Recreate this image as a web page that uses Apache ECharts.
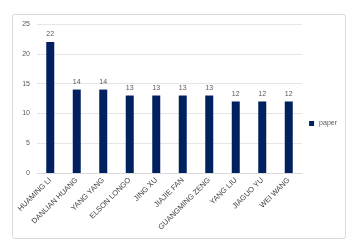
<!DOCTYPE html>
<html><head><meta charset="utf-8">
<script src="https://cdn.jsdelivr.net/npm/echarts@6/dist/echarts.min.js"></script>
<style>html,body{margin:0;padding:0;background:#fff}#c{width:352px;height:247px}</style>
</head><body><div id="c"></div>
<script>
const categories = ["HUAMING LI","DANLIAN HUANG","YANG YANG","ELSON LONGO","JING XU","JIAJIE FAN","GUANGMING ZENG","YANG LIU","JIAGUO YU","WEI WANG"];
const paper = [22,14,14,13,13,13,13,12,12,12];
const yTicks = [0,5,10,15,20,25];
const F = 'Liberation Sans, Arial, sans-serif';
const chart = echarts.init(document.getElementById('c'), null, {renderer:'canvas'});
chart.setOption({
  animation:false,
  graphic:[{type:'rect',shape:{x:12.5,y:14.5,width:333,height:224,r:2},style:{fill:'none',stroke:'#d9d9d9',lineWidth:1}}],
  grid:{left:37,right:50,top:24,bottom:74},
  legend:{data:['paper'],right:10,top:'middle',orient:'vertical',itemWidth:5,itemHeight:5,icon:'rect',itemGap:4,
    textStyle:{fontSize:7,color:'#595959',fontFamily:F}},
  xAxis:{type:'category',data:categories,
    axisLine:{lineStyle:{color:'#d9d9d9'}},axisTick:{show:false},
    axisLabel:{rotate:45,interval:0,fontSize:7.5,color:'#404040',fontFamily:F,margin:6}},
  yAxis:{type:'value',min:yTicks[0],max:yTicks[yTicks.length-1],interval:5,
    axisLine:{show:false},axisTick:{show:false},
    axisLabel:{fontSize:7,color:'#595959',fontFamily:F,margin:7},
    splitLine:{lineStyle:{color:'#e6e6e6'}}},
  series:[{name:'paper',type:'bar',data:paper,barWidth:8,itemStyle:{color:'#002060'},
    label:{show:true,position:'top',fontSize:7,color:'#595959',fontFamily:F,distance:4}}]
});
</script></body></html>
